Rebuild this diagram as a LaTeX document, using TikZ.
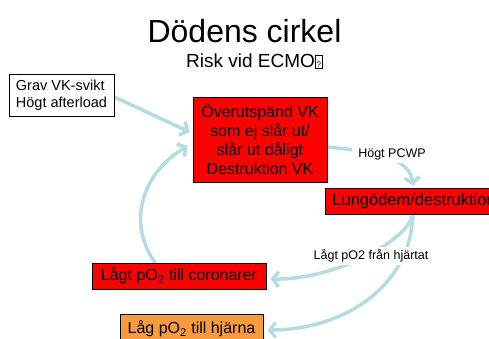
\documentclass[tikz,border=0pt]{standalone}
\usepackage{fontspec}
\setmainfont{Liberation Sans}
\usetikzlibrary{arrows.meta}
\definecolor{flow}{RGB}{180,220,227}
\definecolor{boxred}{RGB}{255,0,0}
\definecolor{boxorange}{RGB}{247,155,60}
\newcommand\missingglyph{{\setlength\fboxsep{0.6pt}\setlength\fboxrule{0.6pt}\fbox{\rule{0pt}{11pt}\makebox[5.5pt]{\fontsize{8}{8}\selectfont ?}}}}
\pgfdeclarelayer{bg}
\pgfsetlayers{bg,main}
\begin{document}
\begin{tikzpicture}[x=1pt,y=-1pt,
  flowarrow/.style={draw=flow, line width=3.5pt, -{Straight Barb[length=6pt,width=15pt]}},
  whitebox/.style={draw=black, line width=0.8pt, fill=white, align=left, inner sep=0pt, font=\fontsize{14.5}{16.5}\selectfont},
  redbox/.style={draw=black, line width=0.8pt, fill=boxred, align=center, inner sep=0pt, font=\fontsize{16}{19}\selectfont},
  lbl/.style={fill=white, inner xsep=6pt, inner ysep=3pt, font=\fontsize{12.5}{14}\selectfont}]
\useasboundingbox (0,0) rectangle (489,338);
\clip (0,0) rectangle (489,338);

\node[anchor=base, font=\fontsize{32}{36}\selectfont] (title) at (244.5,42) {Dödens cirkel};
\node[anchor=base west, inner sep=0pt, font=\fontsize{19}{22}\selectfont] (sub) at (186,67) {Risk vid ECMO\missingglyph};

\node[whitebox, minimum width=105pt, minimum height=42pt] (grav) at (61.5,95) {Grav VK-svikt\\Högt afterload};
\node[redbox, minimum width=134pt, minimum height=85pt] (over) at (260,139.5) {Överutspänd VK\\som ej slår ut/\\slår ut dåligt\\Destruktion VK};
\node[redbox, anchor=west, minimum height=26pt, inner xsep=7pt, font=\fontsize{16.5}{19}\selectfont] (lung) at (325,201) {Lungödem/destruktion};
\node[redbox, minimum width=174pt, minimum height=26pt] (cor) at (179,276) {Lågt pO\textsubscript{2} till coronarer};
\node[redbox, fill=boxorange, minimum width=143pt, minimum height=30pt] (hja) at (191.5,329) {Låg pO\textsubscript{2} till hjärna};

\node[lbl] (pcwp) at (392,154) {Högt PCWP};
\node[lbl] (lagt) at (371,256) {Lågt pO2 från hjärtat};

\begin{pgfonlayer}{bg}
\fill[white] (0,0) rectangle (489,338);
\draw[flowarrow] ([yshift=-2pt]grav.east) -- ([xshift=-3pt,yshift=7.5pt]over.west);
\draw[flowarrow] ([xshift=-24pt]cor.north) .. controls +(-27,-38) and +(-48,29) .. ([xshift=-5pt,yshift=-6.5pt]over.west);
\draw[flowarrow] ([yshift=-7.5pt]over.east) .. controls +(53,5) and +(-3,-26) .. ([xshift=88pt,yshift=2pt]lung.north west);
\draw[flowarrow] ([xshift=88pt]lung.south west) .. controls +(-8,30) and +(60,1) .. ([xshift=4pt,yshift=-3pt]cor.east);
\draw[flowarrow] ([xshift=88pt]lung.south west) .. controls +(-3,75) and +(73,0) .. ([xshift=4pt,yshift=-1pt]hja.east);
\end{pgfonlayer}
\end{tikzpicture}
\end{document}
